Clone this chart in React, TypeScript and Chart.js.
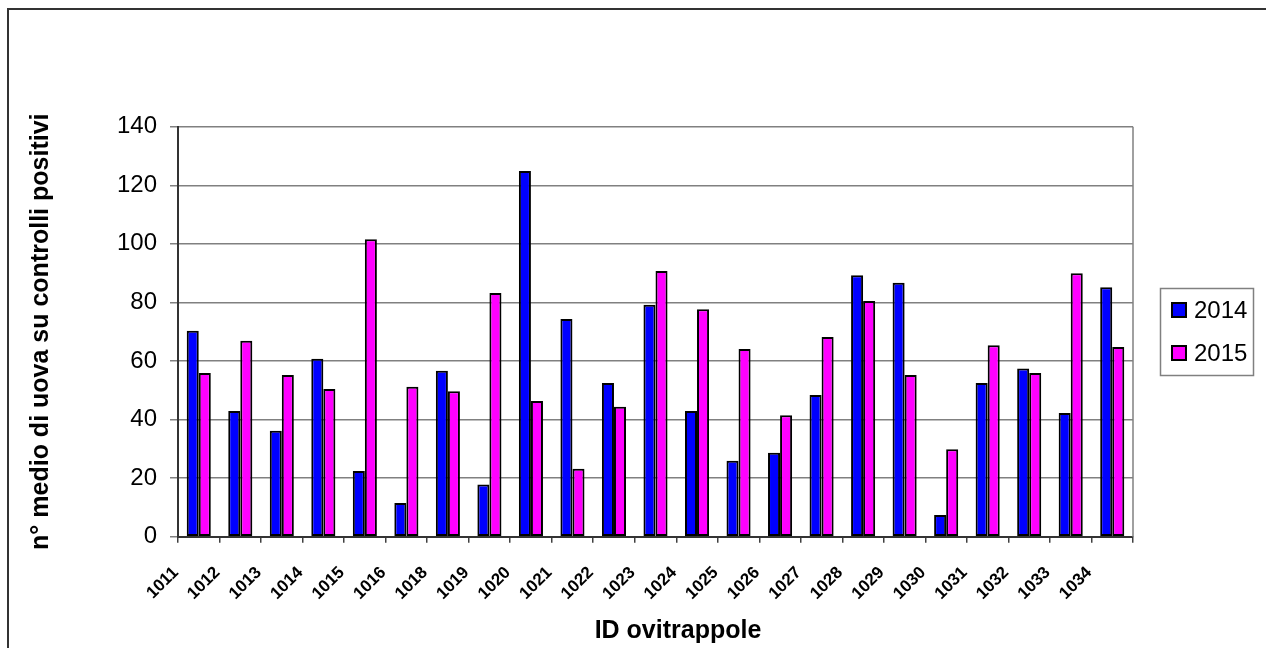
import React, { useEffect, useRef } from "react";
import { Chart, registerables } from "chart.js";

Chart.register(...registerables);

const categories = [
  "1011", "1012", "1013", "1014", "1015", "1016", "1018", "1019", "1020", "1021", "1022", "1023",
  "1024", "1025", "1026", "1027", "1028", "1029", "1030", "1031", "1032", "1033", "1034",
];

const values2014 = [
  70.3, 42.9, 36.2, 60.8, 22.4, 11.5, 56.7, 17.8, 124.9, 74.3, 52.5, 79.2,
  42.9, 25.9, 28.7, 48.4, 89.3, 86.7, 7.4, 52.5, 57.4, 42.2, 85.2,
];

const values2015 = [
  55.9, 66.9, 55.2, 50.4, 101.6, 51.2, 49.7, 83.2, 46.3, 23.2, 44.4, 90.7,
  77.7, 64.1, 41.5, 68.2, 80.5, 55.2, 29.9, 65.4, 55.9, 90.0, 64.8,
];

const seriesLabels = ["2014", "2015"];
const yTicks = [0, 20, 40, 60, 80, 100, 120, 140];

const yTitle = "n° medio di uova su controlli positivi";
const xTitle = "ID ovitrappole";

const FONT = "'Liberation Sans', Arial, Helvetica, sans-serif";
const W = 1266;
const H = 648;

// frame, plot border, axis titles and the boxed legend
const decorations = {
  id: "decorations",
  beforeDraw(chart: any) {
    const ctx = chart.ctx;
    ctx.save();
    ctx.fillStyle = "#ffffff";
    ctx.fillRect(0, 0, chart.width, chart.height);
    ctx.fillStyle = "#333333";
    ctx.fillRect(7, 8, chart.width - 7, 2);
    ctx.fillRect(7, 8, 2, chart.height - 8);
    ctx.restore();
  },
  afterDraw(chart: any) {
    const ctx = chart.ctx;
    const area = chart.chartArea;
    ctx.save();
    // right edge of the plot area
    ctx.strokeStyle = "#808080";
    ctx.lineWidth = 1.5;
    ctx.beginPath();
    ctx.moveTo(area.right, area.top);
    ctx.lineTo(area.right, area.bottom);
    ctx.stroke();

    // axis titles
    ctx.fillStyle = "#000000";
    ctx.font = `bold 25px ${FONT}`;
    ctx.textAlign = "center";
    ctx.textBaseline = "alphabetic";
    ctx.fillText(xTitle, 678, 638);

    ctx.save();
    ctx.translate(48, (area.top + area.bottom) / 2);
    ctx.rotate(-Math.PI / 2);
    ctx.fillText(yTitle, 0, 0);
    ctx.restore();

    // legend
    const lx = 1160, ly = 288, lw = 93, lh = 87;
    ctx.strokeStyle = "#808080";
    ctx.lineWidth = 1.5;
    ctx.strokeRect(lx + 0.5, ly + 0.5, lw, lh);
    ctx.font = `24px ${FONT}`;
    ctx.textAlign = "left";
    ctx.textBaseline = "middle";
    chart.data.datasets.forEach((ds: any, i: number) => {
      const sy = 303 + i * 43;
      ctx.fillStyle = ds.backgroundColor;
      ctx.fillRect(1172, sy, 14, 14);
      ctx.strokeStyle = "#000000";
      ctx.lineWidth = 2;
      ctx.strokeRect(1172, sy, 14, 14);
      ctx.fillStyle = "#000000";
      ctx.fillText(ds.label, 1194, sy + 8);
    });
    ctx.restore();
  },
};

export default function App() {
  const canvasRef = useRef<HTMLCanvasElement | null>(null);

  useEffect(() => {
    if (!canvasRef.current) return;
    const chart = new Chart(canvasRef.current, {
      type: "bar",
      data: {
        labels: categories,
        datasets: [
          {
            label: seriesLabels[0],
            data: values2014,
            backgroundColor: "#0000ff",
            borderColor: "#000000",
            borderWidth: 2,
            borderSkipped: false,
            categoryPercentage: 0.58,
            barPercentage: 1,
          },
          {
            label: seriesLabels[1],
            data: values2015,
            backgroundColor: "#ff00ff",
            borderColor: "#000000",
            borderWidth: 2,
            borderSkipped: false,
            categoryPercentage: 0.58,
            barPercentage: 1,
          },
        ],
      },
      options: {
        responsive: false,
        maintainAspectRatio: false,
        animation: false,
        devicePixelRatio: 1,
        layout: { padding: { left: 0, right: W - 1133, top: 126.7, bottom: 0 } },
        plugins: {
          legend: { display: false },
          tooltip: { enabled: false },
        },
        scales: {
          x: {
            offset: true,
            grid: {
              display: true,
              drawOnChartArea: false,
              drawTicks: true,
              tickLength: 6,
              offset: true,
              color: "#404040",
              lineWidth: 1.5,
            },
            border: { color: "#333333", width: 2 },
            ticks: {
              autoSkip: false,
              minRotation: 45,
              maxRotation: 45,
              labelOffset: -23,
              padding: 20,
              color: "#000000",
              font: { family: FONT, size: 17, weight: "bold" },
            },
            afterFit: (scale: any) => {
              scale.height = H - 536.7;
            },
          },
          y: {
            min: 0,
            max: 140,
            afterBuildTicks: (scale: any) => {
              scale.ticks = yTicks.map((v) => ({ value: v }));
            },
            grid: {
              color: "#808080",
              lineWidth: 1.5,
              tickLength: 8,
              tickColor: "#808080",
            },
            border: { color: "#333333", width: 2 },
            ticks: {
              padding: 13,
              color: "#000000",
              font: { family: FONT, size: 24 },
            },
            afterFit: (scale: any) => {
              scale.width = 178;
            },
          },
        },
      },
      plugins: [decorations],
    });
    return () => chart.destroy();
  }, []);

  return (
    <div style={{ position: "fixed", left: 0, top: 0, width: W, height: H, background: "#fff" }}>
      <canvas ref={canvasRef} width={W} height={H} style={{ width: W, height: H, display: "block" }} />
    </div>
  );
}
